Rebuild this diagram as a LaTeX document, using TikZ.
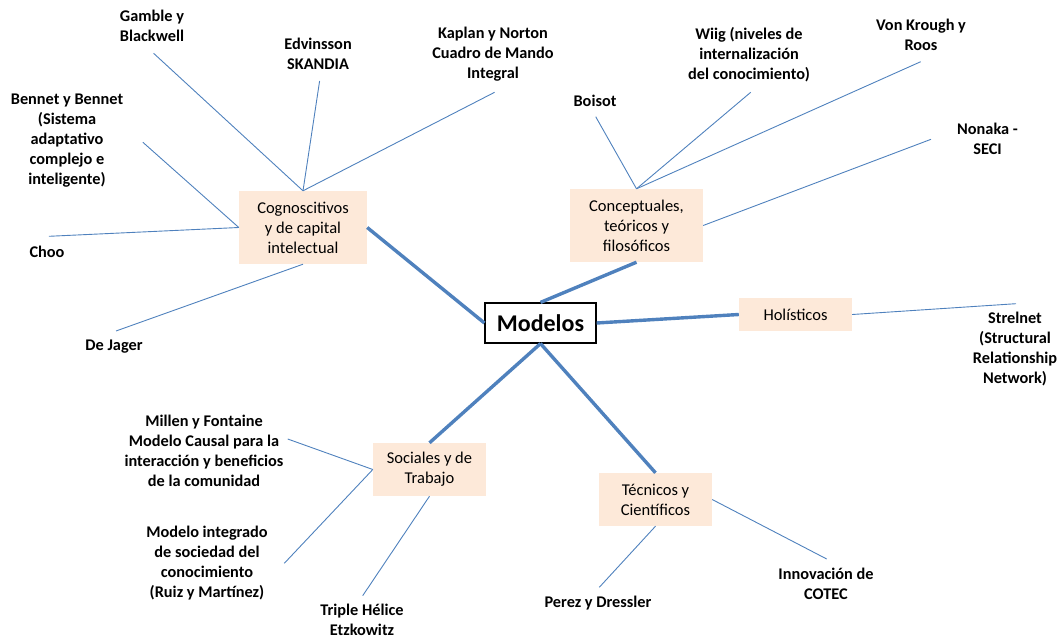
\documentclass[tikz,border=0pt]{standalone}
\usepackage{fontspec}
\setmainfont{Carlito}
\definecolor{lnblue}{HTML}{4F81BD}
\definecolor{boxfill}{HTML}{FDE9D9}
\begin{document}
\begin{tikzpicture}[x=1pt,y=-1pt,
  catbox/.style={fill=boxfill, inner sep=0pt, align=center, font=\fontsize{16.5}{20}\selectfont},
  lbl/.style={inner sep=0pt, align=center, font=\fontsize{16.3}{20}\selectfont\bfseries},
  spoke/.style={draw=lnblue, line width=0.9pt},
  trunk/.style={draw=lnblue, line width=3.4pt}
]
\useasboundingbox (0,0) rectangle (1060,639);

% central node
\node[draw=black, line width=1.2pt, fill=white, minimum width=111pt, minimum height=40pt, inner sep=0pt,
      font=\fontsize{24}{28}\selectfont\bfseries] (mod) at (540.5,323) {Modelos};

% category boxes
\node[catbox, minimum width=128pt, minimum height=73pt] (cog) at (303,227.5) {Cognoscitivos\\y de capital\\intelectual};
\node[catbox, minimum width=133pt, minimum height=73pt] (conc) at (636.5,225.5) {Conceptuales,\\teóricos y\\filosóficos};
\node[catbox, minimum width=113pt, minimum height=33pt] (hol) at (795.5,314.5) {Holísticos};
\node[catbox, minimum width=113pt, minimum height=53pt] (soc) at (429.5,469.5) {Sociales y de\\Trabajo};
\node[catbox, minimum width=113pt, minimum height=53pt] (tec) at (655.5,499.5) {Técnicos y\\Científicos};

% labels
\node[lbl] (gamble) at (152,26) {Gamble y\\Blackwell};
\node[lbl] (edv) at (318,54) {Edvinsson\\SKANDIA};
\node[lbl] (kaplan) at (493,54.5) {Kaplan y Norton\\Cuadro de Mando\\Integral};
\node[lbl] (bennet) at (67,141) {Bennet y Bennet\\(Sistema\\adaptativo\\complejo e\\inteligente)};
\node[lbl] (choo) at (47,252) {Choo};
\node[lbl] (dejager) at (114,347) {De Jager};
\node[lbl] (boisot) at (595,101) {Boisot};
\node[lbl] (wiig) at (749,54.5) {Wiig (niveles de\\internalización\\del conocimiento)};
\node[lbl] (vonk) at (921,35) {Von Krough y\\Roos};
\node[lbl] (nonaka) at (987.5,139) {Nonaka -\\SECI};
\node[lbl] (strel) at (1015,349) {Strelnet\\(Structural\\Relationship\\Network)};
\node[lbl] (millen) at (204,451) {Millen y Fontaine\\Modelo Causal para la\\interacción y beneficios\\de la comunidad};
\node[lbl] (modint) at (207,563) {Modelo integrado\\de sociedad del\\conocimiento\\(Ruiz y Martínez)};
\node[lbl] (triple) at (362,620) {Triple Hélice\\Etzkowitz};
\node[lbl] (perez) at (598,603) {Perez y Dressler};
\node[lbl] (innov) at (826,584) {Innovación de\\COTEC};

% free ends of spokes
\coordinate (gambleE) at (153.6,53.3);
\coordinate (edvE) at (319.6,81);
\coordinate (kaplanE) at (494.6,92.3);
\coordinate (bennetE) at (142.9,142.3);
\coordinate (chooE) at (48.9,236.3);
\coordinate (dejagerE) at (116,331);
\coordinate (boisotE) at (595.7,116.7);
\coordinate (wiigE) at (750.7,92.3);
\coordinate (vonkE) at (920.7,61.7);
\coordinate (nonakaE) at (931,139.3);
\coordinate (strelE) at (1016,303.7);
\coordinate (millenE) at (287.7,439);
\coordinate (modintE) at (284.3,563.3);
\coordinate (tripleE) at (362.7,595.7);
\coordinate (perezE) at (599.3,587.3);
\coordinate (innovE) at (826.7,559);

% trunks
\draw[trunk] (cog.east) -- (mod.west);
\draw[trunk] (conc.south) -- (mod.north);
\draw[trunk] (mod.east) -- (hol.west);
\draw[trunk] (mod.south) -- (soc.north);
\draw[trunk] (mod.south) -- (tec.north);

% spokes
\draw[spoke] (gambleE) -- (cog.north);
\draw[spoke] (edvE) -- (cog.north);
\draw[spoke] (kaplanE) -- (cog.north);
\draw[spoke] (bennetE) -- (cog.west);
\draw[spoke] (chooE) -- (cog.west);
\draw[spoke] (dejagerE) -- (cog.south);
\draw[spoke] (boisotE) -- (conc.north);
\draw[spoke] (wiigE) -- (conc.north);
\draw[spoke] (vonkE) -- (conc.north);
\draw[spoke] (nonakaE) -- (conc.east);
\draw[spoke] (hol.east) -- (strelE);
\draw[spoke] (millenE) -- (soc.west);
\draw[spoke] (modintE) -- (soc.west);
\draw[spoke] (tripleE) -- (soc.south);
\draw[spoke] (perezE) -- (tec.south);
\draw[spoke] (innovE) -- (tec.east);
\end{tikzpicture}
\end{document}
